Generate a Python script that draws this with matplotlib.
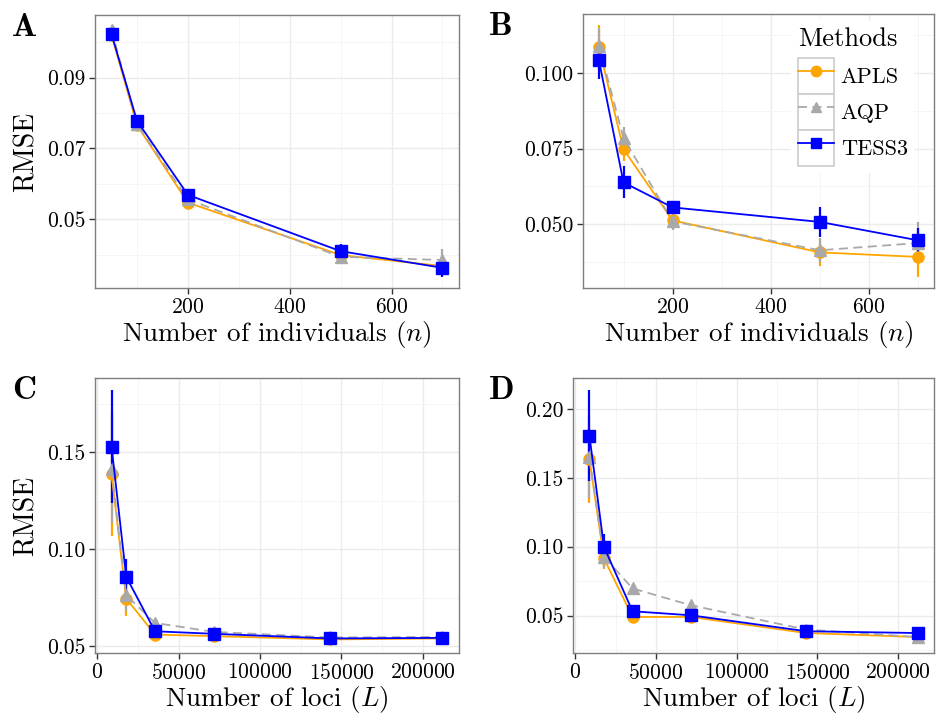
import numpy as np
import matplotlib
matplotlib.use("Agg")
import matplotlib.pyplot as plt
from matplotlib.legend_handler import HandlerLine2D
from matplotlib.patches import Rectangle
from matplotlib.ticker import FormatStrFormatter, FixedLocator

plt.rcParams['font.family'] = ['cmr10']
plt.rcParams['mathtext.fontset'] = 'cm'
plt.rcParams['axes.unicode_minus'] = False
plt.rcParams['axes.formatter.use_mathtext'] = True

methods = ["APLS", "AQP", "TESS3"]

# Panel A & B: number of individuals
n_vals = [50, 100, 200, 500, 700]
A_mean = {
    "APLS": [0.1020, 0.0766, 0.0547, 0.0399, 0.0368],
    "AQP": [0.1035, 0.0768, 0.0556, 0.0394, 0.0385],
    "TESS3": [0.1023, 0.0778, 0.0569, 0.0410, 0.0363],
}
A_err = {
    "APLS": [0.0010, 0.0010, 0.0012, 0.0012, 0.0015],
    "AQP": [0.0014, 0.0010, 0.0012, 0.0015, 0.0030],
    "TESS3": [0.0010, 0.0010, 0.0012, 0.0020, 0.0025],
}
B_mean = {
    "APLS": [0.1085, 0.0748, 0.0512, 0.0406, 0.0391],
    "AQP": [0.1090, 0.0785, 0.0509, 0.0413, 0.0437],
    "TESS3": [0.1042, 0.0638, 0.0555, 0.0507, 0.0446],
}
B_err = {
    "APLS": [0.0075, 0.0040, 0.0030, 0.0045, 0.0065],
    "AQP": [0.0060, 0.0035, 0.0030, 0.0040, 0.0070],
    "TESS3": [0.0060, 0.0053, 0.0020, 0.0050, 0.0040],
}

# Panel C & D: number of loci
L_vals = [8800, 17800, 35500, 71500, 143000, 212000]
C_mean = {
    "APLS": [0.1387, 0.0746, 0.0560, 0.0552, 0.0535, 0.0540],
    "AQP": [0.1413, 0.0763, 0.0620, 0.0574, 0.0545, 0.0548],
    "TESS3": [0.1529, 0.0858, 0.0577, 0.0564, 0.0540, 0.0543],
}
C_err = {
    "APLS": [0.032, 0.009, 0.002, 0.002, 0.002, 0.002],
    "AQP": [0.028, 0.008, 0.002, 0.002, 0.002, 0.002],
    "TESS3": [0.029, 0.009, 0.002, 0.002, 0.001, 0.001],
}
D_mean = {
    "APLS": [0.1635, 0.0915, 0.0490, 0.0490, 0.0373, 0.0344],
    "AQP": [0.1650, 0.0927, 0.0697, 0.0575, 0.0398, 0.0344],
    "TESS3": [0.1807, 0.0999, 0.0531, 0.0502, 0.0386, 0.0373],
}
D_err = {
    "APLS": [0.032, 0.008, 0.004, 0.002, 0.002, 0.002],
    "AQP": [0.030, 0.008, 0.003, 0.003, 0.002, 0.002],
    "TESS3": [0.033, 0.009, 0.003, 0.002, 0.002, 0.002],
}

colors = {"APLS": "#FFA500", "AQP": "#A9A9A9", "TESS3": "#0000FF"}
markers = {"APLS": "o", "AQP": "^", "TESS3": "s"}
msizes = {"APLS": 8, "AQP": 9, "TESS3": 8.5}
lstyles = {"APLS": "-", "AQP": (0, (5, 3)), "TESS3": "-"}

W, H = 936, 715
fig = plt.figure(figsize=(W / 100, H / 100), dpi=100)


def box(l, r, t, b):
    return [l / W, (H - b) / H, (r - l) / W, (b - t) / H]


axA = fig.add_axes(box(95, 459, 15, 288))
axB = fig.add_axes(box(583, 934, 14, 288))
axC = fig.add_axes(box(95, 459, 378, 653))
axD = fig.add_axes(box(573, 934, 378, 653))

panels = [
    (axA, n_vals, A_mean, A_err, "A", (17.5, 732.5), (0.0306, 0.1077),
     [200, 400, 600], [100, 300, 500, 700], [0.05, 0.07, 0.09], [0.04, 0.06, 0.08, 0.10], "%.2f",
     r"Number of individuals ($n$)", True, 12),
    (axB, n_vals, B_mean, B_err, "B", (17.5, 732.5), (0.0288, 0.1196),
     [200, 400, 600], [100, 300, 500, 700], [0.050, 0.075, 0.100], [0.0375, 0.0625, 0.0875, 0.1125], "%.3f",
     r"Number of individuals ($n$)", False, 489),
    (axC, L_vals, C_mean, C_err, "C", (-1360, 222160), (0.0465, 0.1883),
     [0, 50000, 100000, 150000, 200000], [25000, 75000, 125000, 175000], [0.05, 0.10, 0.15], [0.075, 0.125, 0.175], "%.2f",
     r"Number of loci ($L$)", True, 12),
    (axD, L_vals, D_mean, D_err, "D", (-1360, 222160), (0.0228, 0.2225),
     [0, 50000, 100000, 150000, 200000], [25000, 75000, 125000, 175000], [0.05, 0.10, 0.15, 0.20], [0.025, 0.075, 0.125, 0.175], "%.2f",
     r"Number of loci ($L$)", False, 489),
]

for (ax, xv, means, errs, lab, xl, yl, xmaj, xmin, ymaj, ymin, fmt, xlabel, ylab, labx) in panels:
    ax.set_xlim(*xl)
    ax.set_ylim(*yl)
    ax.xaxis.set_major_locator(FixedLocator(xmaj))
    ax.xaxis.set_minor_locator(FixedLocator(xmin))
    ax.yaxis.set_major_locator(FixedLocator(ymaj))
    ax.yaxis.set_minor_locator(FixedLocator(ymin))
    ax.yaxis.set_major_formatter(FormatStrFormatter(fmt))
    ax.grid(True, which='major', color='#EBEBEB', linewidth=1.0, zorder=0)
    ax.grid(True, which='minor', color='#F5F5F5', linewidth=0.7, zorder=0)
    ax.set_axisbelow(True)
    for s in ax.spines.values():
        s.set_color('#7F7F7F')
        s.set_linewidth(1.0)
    ax.tick_params(which='major', direction='out', length=4, width=1.0, color='#333333',
                   labelsize=15.5, labelcolor='black', pad=3)
    ax.tick_params(which='minor', length=0)
    for m in methods:
        ax.errorbar(xv, means[m], yerr=errs[m], color=colors[m], ecolor=colors[m],
                    elinewidth=1.6, capsize=0, linewidth=1.3, linestyle=lstyles[m],
                    marker=markers[m], markersize=msizes[m], label=m, zorder=3)
    ax.set_xlabel(xlabel, fontsize=19.5, labelpad=1)
    if ylab:
        ax.set_ylabel("RMSE", fontsize=20, labelpad=5)
    pos = ax.get_position()
    fig.text(labx / W, pos.y1 + 2 / H, lab, fontsize=24,
             fontfamily='cmb10', va='top', ha='left')


class BoxedHandler(HandlerLine2D):
    def create_artists(self, legend, orig_handle, xdescent, ydescent, width, height, fontsize, trans):
        arts = super().create_artists(legend, orig_handle, xdescent, ydescent, width, height, fontsize, trans)
        rect = Rectangle((-xdescent, -ydescent), width, height, facecolor='white',
                         edgecolor='#CCCCCC', linewidth=1.2, transform=trans, zorder=-1)
        for a in arts:
            if hasattr(a, 'set_markersize'):
                a.set_markersize(7.5)
        return [rect] + list(arts)


handles = []
for m in methods:
    h, = axB.plot([], [], color=colors[m], linestyle=lstyles[m], marker=markers[m],
                  markersize=7.5, linewidth=1.3, label=m)
    handles.append(h)
leg = axB.legend(handles=handles, title="Methods", loc='upper left', bbox_to_anchor=(0.593, 0.975),
                 fontsize=16, title_fontsize=19, frameon=True, fancybox=False, edgecolor='none',
                 facecolor='white', framealpha=1, handlelength=1.63, handleheight=2.12,
                 labelspacing=0.0, handletextpad=0.3, borderpad=0.3, borderaxespad=0,
                 handler_map={h: BoxedHandler() for h in handles})
leg._legend_box.align = "left"
leg._legend_box.sep = 5

fig.savefig("out.png", dpi=100)
